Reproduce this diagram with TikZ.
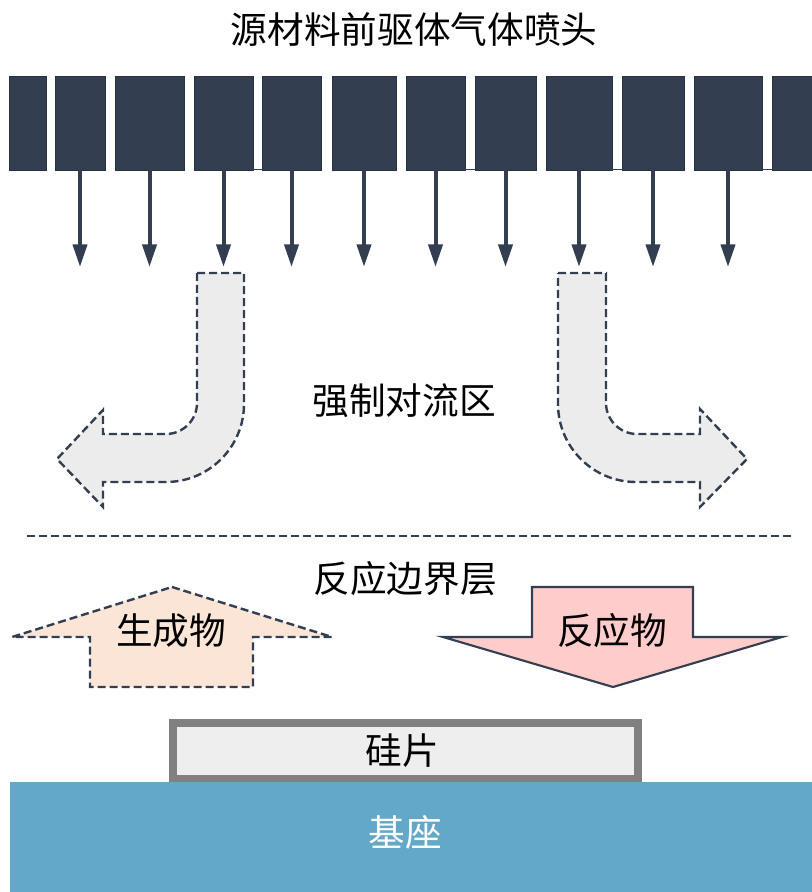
\documentclass[tikz,border=0pt]{standalone}
\usepackage{fontspec}
\setmainfont{Noto Sans CJK SC}
\usetikzlibrary{arrows.meta}
\definecolor{slate}{RGB}{51,63,80}
\definecolor{flowgray}{RGB}{236,236,236}
\definecolor{peach}{RGB}{251,229,214}
\definecolor{pinkish}{RGB}{255,204,204}
\definecolor{basecol}{RGB}{99,168,200}
\definecolor{wafergray}{RGB}{128,128,128}
\definecolor{waferfill}{RGB}{238,238,238}
\tikzset{
  blk/.style={draw=slate!80!black, line width=0.6pt, fill=slate, inner sep=0pt, outer sep=0pt, anchor=north west, minimum height=70.5pt},
  gasarrow/.style={draw=slate, line width=3pt, -{Triangle[width=10.5pt,length=17pt]}},
  dashedge/.style={draw=slate, line width=1.8pt, dash pattern=on 6pt off 3pt},
  lbl/.style={font=\fontsize{27.5}{32}\selectfont, inner sep=0pt}
}
\begin{document}
\begin{tikzpicture}[x=0.75pt,y=-0.75pt]
\useasboundingbox (0,0) rectangle (812,892);
% title
\node[lbl] (title) at (414,29) {源材料前驱体气体喷头};
% showerhead
\foreach \i/\l/\r in {1/9/46,2/55/105,3/115/184,4/194/253,5/262/321,6/332/396,7/406/465,8/475/536,9/546/612,10/622/684,11/694/762,12/772/812}{
  \pgfmathsetmacro\w{(\r-\l)*0.75}
  \node[blk, minimum width=\w pt] (b\i) at (\l,76) {};
}
\foreach \l/\r in {253/262,465/475,612/622,762/772}{
  \draw[slate, line width=0.8pt] (\l,169.5) -- (\r,169.5);
}
% gas arrows
\foreach \i in {2,...,11}{
  \coordinate (t\i) at ([yshift=-97*0.75pt]b\i.south);
  \draw[gasarrow] (b\i.south) -- (t\i);
}
% forced convection flows
\path[dashedge, fill=flowgray] (197,273) -- (244,273) -- (244,404)
  .. controls (244,447) and (209,482) .. (166,482) -- (103,482) -- (103,507)
  -- (57,459) -- (103,410) -- (103,434) -- (166,434)
  .. controls (183,434) and (197,420) .. (197,403) -- cycle;
\path[dashedge, fill=flowgray] (558,273) -- (606,273) -- (606,403)
  .. controls (606,420) and (620,434) .. (637,434) -- (700,434) -- (700,409)
  -- (747,459) -- (700,507) -- (700,482) -- (636,482)
  .. controls (593,482) and (558,447) .. (558,404) -- cycle;
\node[lbl] (conv) at (404,401) {强制对流区};
% boundary
\coordinate (dl) at (27,536);
\coordinate (dr) at (792,536);
\draw[dashedge] (dl) -- (dr);
\node[lbl] (bl) at (405,579) {反应边界层};
% products arrow
\path[dashedge, fill=peach] (172,587) -- (332,637) -- (253,637) -- (253,687)
  -- (90,687) -- (90,637) -- (12,637) -- cycle;
\node[lbl] (prod) at (171,631) {生成物};
% reactants arrow
\path[draw=slate, line width=1.6pt, fill=pinkish, line join=miter] (532,587) -- (693,587) -- (693,637)
  -- (782,637) -- (613,687) -- (443,637) -- (532,637) -- cycle;
\node[lbl] (reac) at (612,631) {反应物};
% wafer and susceptor
\draw[draw=wafergray, line width=6pt, fill=waferfill] (172.5,722.5) rectangle (638,779);
\node[lbl] (wafer) at (402,751) {硅片};
\fill[basecol] (10,782) rectangle (812,892);
\node[lbl, text=white] (base) at (405,832) {基座};
\end{tikzpicture}
\end{document}
